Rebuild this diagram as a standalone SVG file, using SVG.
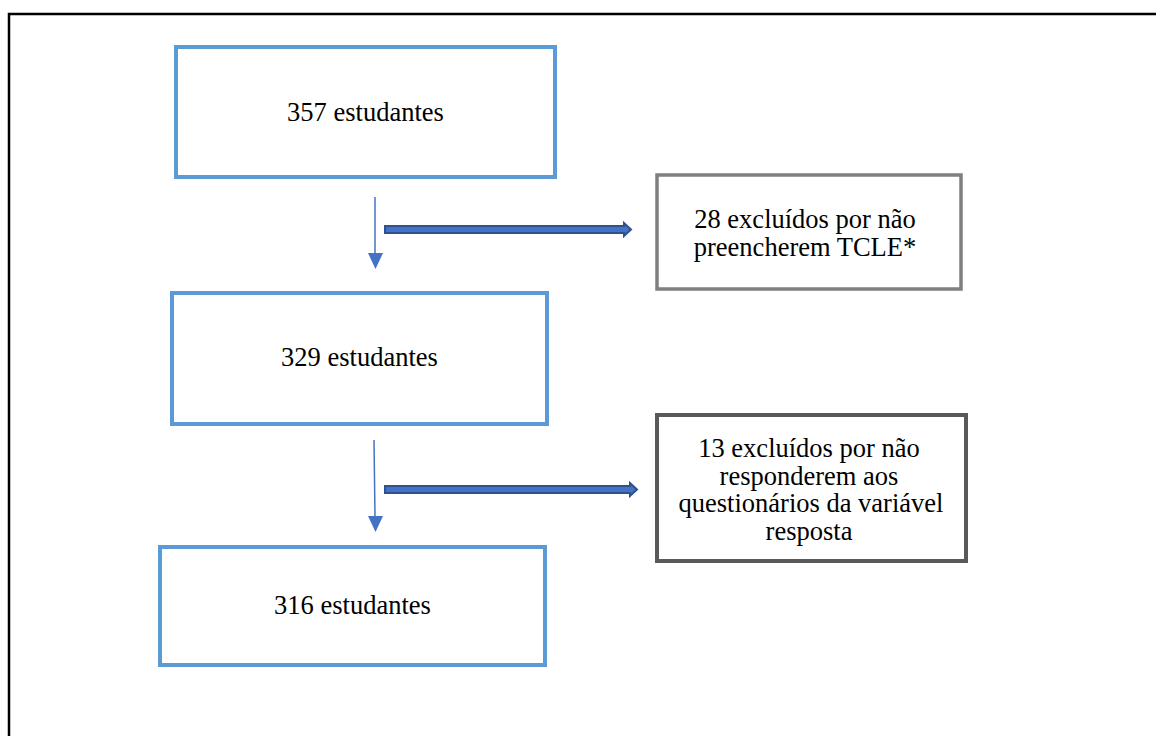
<svg xmlns="http://www.w3.org/2000/svg" width="1156" height="736" viewBox="0 0 1156 736">
<defs>
<style>
.blue{fill:#fff;stroke:#5B9BD5;stroke-width:4}
.g1{fill:#fff;stroke:#7F7F7F;stroke-width:3.5}
.g2{fill:#fff;stroke:#595959;stroke-width:4}
.thin{stroke:#4472C4;stroke-width:1.5;fill:none}
.head{fill:#4472C4}
.fat{fill:#4472C4;stroke:#2F528F;stroke-width:2}
</style>
</defs>
<rect width="1156" height="736" fill="#fff"/>
<path d="M9 736 V14 H1156" fill="none" stroke="#000" stroke-width="2.5"/>
<g font-family="'Liberation Serif', 'DejaVu Serif', serif" font-size="26.5" fill="#000" text-anchor="middle">
<g id="n1"><rect class="blue" x="176" y="47" width="379" height="130"/><text x="365.5" y="121">357 estudantes</text></g>
<g id="n2"><rect class="blue" x="172" y="293" width="375" height="131"/><text x="359.5" y="366">329 estudantes</text></g>
<g id="n3"><rect class="blue" x="160" y="547" width="385" height="118"/><text x="352.5" y="614">316 estudantes</text></g>
<g id="e1"><rect class="g1" x="657" y="175" width="304" height="114"/><text x="805" y="228">28 excluídos por não</text><text x="805" y="255.5">preencherem TCLE*</text></g>
<g id="e2"><rect class="g2" x="657" y="415" width="309" height="146"/><text x="809" y="457">13 excluídos por não</text><text x="809" y="484.5">responderem aos</text><text x="811" y="512">questionários da variável</text><text x="809" y="539.5">resposta</text></g>
</g>
<g id="connectors">
<line class="thin" x1="375" y1="197" x2="375" y2="254"/>
<polygon class="head" points="368,253 383,253 375.5,269"/>
<line class="thin" x1="374" y1="440" x2="375" y2="517"/>
<polygon class="head" points="368,516 383,516 375.5,532"/>
<polygon class="fat" points="385,226 624,226 624,223 631,229.5 624,236 624,233 385,233"/>
<polygon class="fat" points="385,486 630,486 630,483 637,489.5 630,496 630,493 385,493"/>
</g>
</svg>
